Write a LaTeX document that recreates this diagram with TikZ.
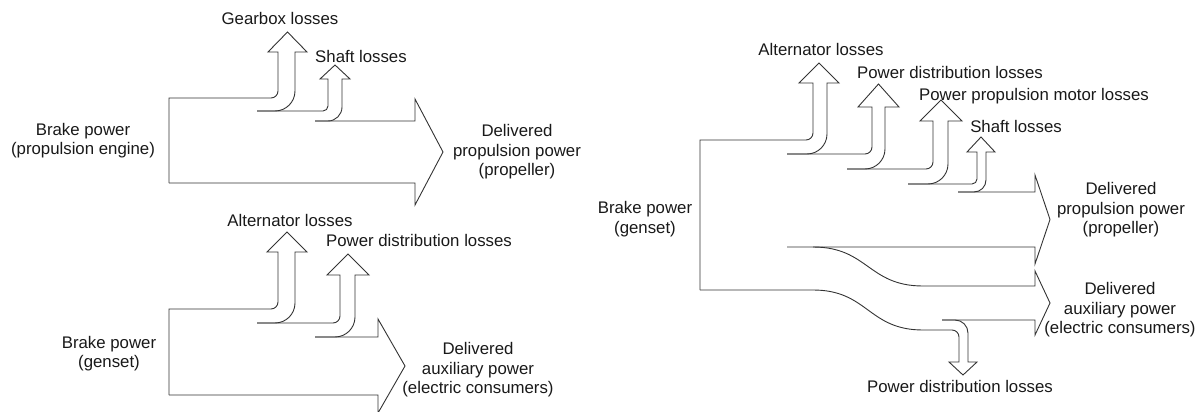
\documentclass[tikz,border=0pt]{standalone}
\usepackage{fontspec}
\setmainfont{Liberation Sans}
\begin{document}
\begin{tikzpicture}[x=1pt,y=-1pt,
  ln/.style={line width=0.9pt, draw=gray!40!black, line join=miter},
  lbl/.style={font=\fontsize{16.8}{19.5}\selectfont, align=center, inner sep=0pt, text=black!90}]
\useasboundingbox (0,0) rectangle (1203,412);

% ---------------- top-left: propulsion engine ----------------
\draw[ln] (169,183) -- (169,98) -- (271,98) .. controls (274.86,98) and (278,94.86) .. (278,91)
  -- (278,52) -- (268,52) -- (287.5,32) -- (307,52) -- (295,52) -- (295,91)
  .. controls (295,102.04) and (286.04,111) .. (275,111) -- (257,111);
\draw[ln] (257,111) -- (323,111) .. controls (325.76,111) and (328,108.76) .. (328,106)
  -- (328,79) -- (320,79) -- (335,65) -- (350,79) -- (342,79) -- (342,107)
  .. controls (342,114.73) and (335.73,121) .. (328,121) -- (315,121);
\draw[ln] (315,121) -- (415,121) -- (415,99) -- (443,152) -- (415,205) -- (415,183) -- (169,183);

\node[lbl, anchor=base] (tlgear) at (280,25) {Gearbox losses};
\node[lbl, anchor=base] (tlshaft) at (361,63) {Shaft losses};
\node[lbl] (tlbrake) at (83,140.5) {Brake power\\(propulsion engine)};
\node[lbl] (tldel) at (517,152) {Delivered\\propulsion power\\(propeller)};

% ---------------- bottom-left: genset ----------------
\draw[ln] (169,395) -- (169,309) -- (271,309) .. controls (274.86,309) and (278,305.86) .. (278,302)
  -- (278,252) -- (267,252) -- (287,232) -- (307,252) -- (295,252) -- (295,303)
  .. controls (295,314.04) and (286.04,323) .. (275,323) -- (257,323);
\draw[ln] (257,323) -- (333,323) .. controls (336.86,323) and (340,319.86) .. (340,316)
  -- (340,275) -- (327,275) -- (348,254) -- (369,275) -- (355,275) -- (355,317)
  .. controls (355,328.04) and (346.04,337) .. (335,337) -- (315,337);
\draw[ln] (315,337) -- (378,337) -- (378,319) -- (405,366) -- (378,413) -- (378,395) -- (169,395);

\node[lbl, anchor=base] (blalt) at (290,226) {Alternator losses};
\node[lbl, anchor=base] (blpd) at (419,246) {Power distribution losses};
\node[lbl] (blbrake) at (109,353.5) {Brake power\\(genset)};
\node[lbl] (bldel) at (478,370) {Delivered\\auxiliary power\\(electric consumers)};

% ---------------- right: genset with propulsion + auxiliary ----------------
\draw[ln] (700,290) -- (700,140) -- (806,140) .. controls (809.86,140) and (813,136.86) .. (813,133)
  -- (813,83) -- (799,83) -- (819,63) -- (839,83) -- (827,83) -- (827,134)
  .. controls (827,145.04) and (818.04,154) .. (807,154) -- (787,154);
\draw[ln] (787,154) -- (865,154) .. controls (868.86,154) and (872,150.86) .. (872,147)
  -- (872,107) -- (858,107) -- (878.5,84) -- (899,107) -- (885,107) -- (885,149)
  .. controls (885,160.04) and (876.04,169) .. (865,169) -- (847,169);
\draw[ln] (847,169) -- (926,169) .. controls (929.86,169) and (933,165.86) .. (933,162)
  -- (933,121) -- (920,121) -- (941,100) -- (962,121) -- (948,121) -- (948,164)
  .. controls (948,175.04) and (939.04,184) .. (928,184) -- (908,184);
\draw[ln] (908,184) -- (972,184) .. controls (974.76,184) and (977,181.76) .. (977,179)
  -- (977,152) -- (967,152) -- (981,137) -- (995,152) -- (986,152) -- (986,180)
  .. controls (986,186.62) and (980.62,192) .. (974,192) -- (958,192);
\draw[ln] (958,192) -- (1035,192) -- (1035,175) -- (1050,219.5) -- (1035,264) -- (1035,247) -- (787,247);
\draw[ln] (813,247) .. controls (868,247) and (868,286) .. (923,286) -- (1035,286) -- (1035,271)
  -- (1050,303) -- (1035,335) -- (1035,320) -- (942,320);
\draw[ln] (942,320) -- (955,320) .. controls (962.18,320) and (968,325.82) .. (968,333)
  -- (968,362) -- (977,362) -- (963,375) -- (949,362) -- (959,362) -- (959,337)
  .. controls (959,333.14) and (955.86,330) .. (952,330) -- (923,330)
  .. controls (868,330) and (868,290) .. (813,290) -- (700,290);

\node[lbl, anchor=base] (ralt) at (821,56) {Alternator losses};
\node[lbl, anchor=base] (rpd) at (950,78) {Power distribution losses};
\node[lbl, anchor=base] (rppm) at (1034,100) {Power propulsion motor losses};
\node[lbl, anchor=base] (rshaft) at (1016,132) {Shaft losses};
\node[lbl] (rbrake) at (645,219) {Brake power\\(genset)};
\node[lbl] (rdelp) at (1121,210) {Delivered\\propulsion power\\(propeller)};
\node[lbl] (rdela) at (1120,310) {Delivered\\auxiliary power\\(electric consumers)};
\node[lbl, anchor=base] (rpddown) at (960,392) {Power distribution losses};
\end{tikzpicture}
\end{document}
